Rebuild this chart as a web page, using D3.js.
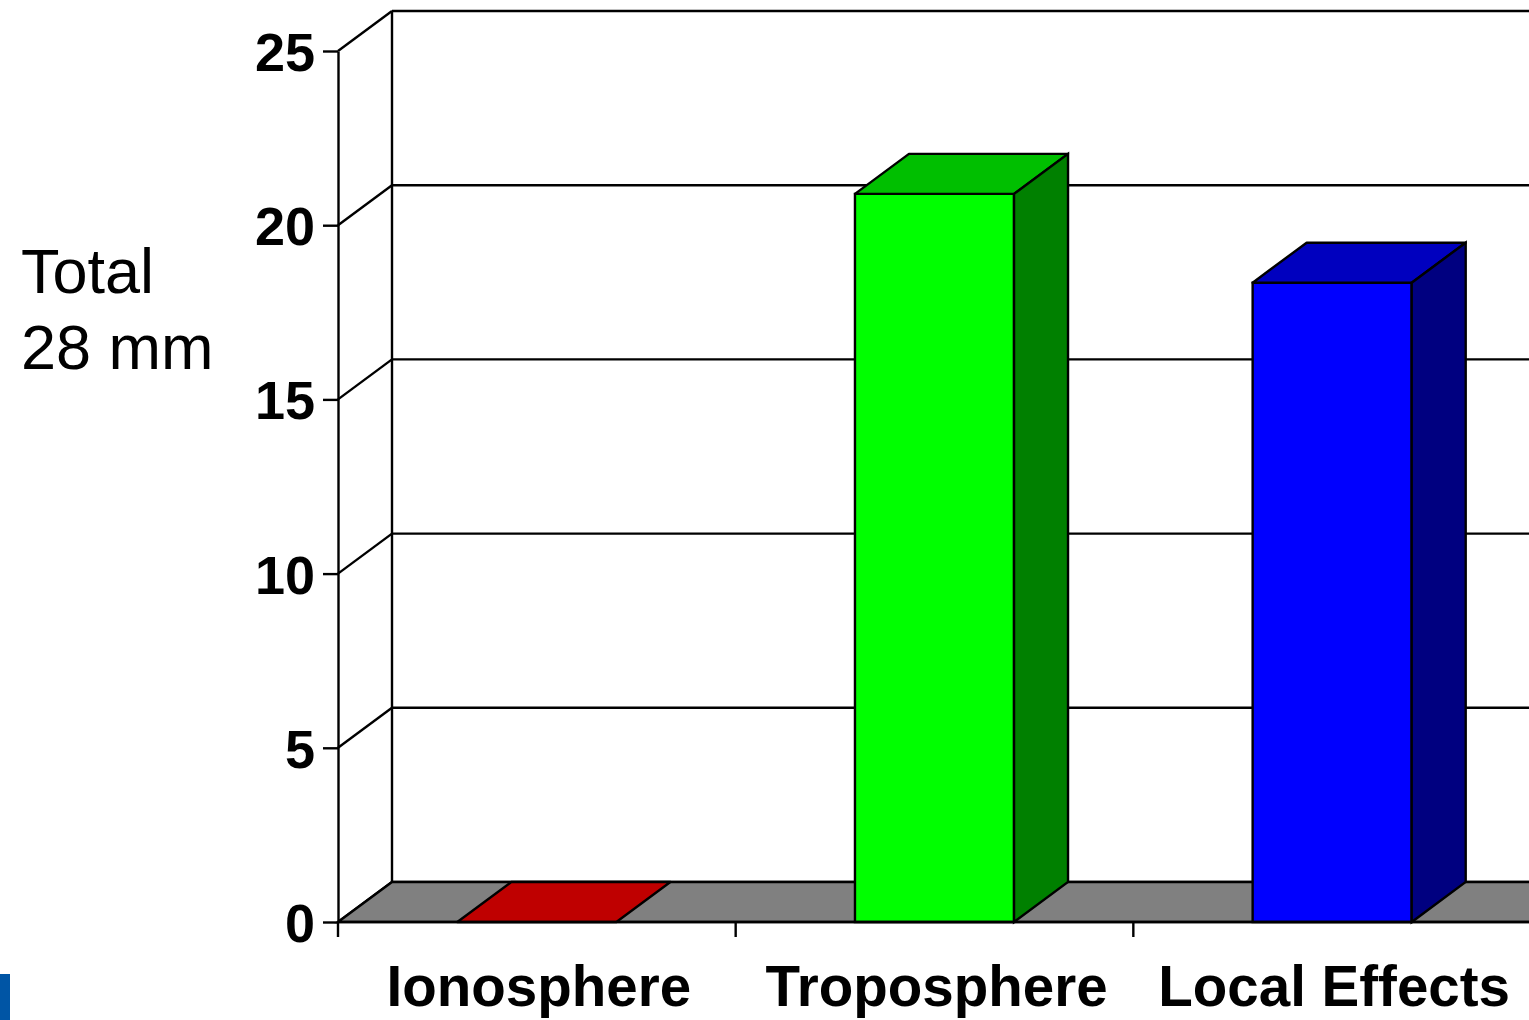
<!DOCTYPE html>
<html>
<head>
<meta charset="utf-8">
<script src="https://cdn.jsdelivr.net/npm/d3@7"></script>
<style>
  html, body { margin: 0; padding: 0; background: #fff; overflow: hidden; }
  svg { display: block; }
</style>
</head>
<body>
<svg width="1529" height="1020"></svg>
<script>
// data
var categories = ['Ionosphere', 'Troposphere', 'Local Effects']
var values = [0, 20.9, 18.35]
var frontColors = ['#ff0000', '#00ff00', '#0000ff']
var yTicks = [0, 5, 10, 15, 20, 25]
var noteLines = ['Total', '28 mm']

var svg = d3.select('svg')
var width = 1529, height = 1020

// depth offset of the 3d box
var dx = 54, dy = -40

var y = d3.scaleLinear().domain([0, 25]).range([922, 51])
var x = d3.scaleBand().domain(categories).range([338, 1531])
    .paddingInner(0.6).paddingOuter(0.3)

var ink = '#000'
var sw = 2.4
var font = '"Liberation Sans", Arial, sans-serif'

// side wall diagonals + back wall grid
var grid = svg.append('g')
grid.selectAll('line.back')
    .data(yTicks)
    .enter().append('line')
    .attr('class', 'back')
    .attr('x1', 338 + dx).attr('x2', width + 10)
    .attr('y1', d => y(d) + dy).attr('y2', d => y(d) + dy)
    .style('stroke', ink).style('stroke-width', sw)

grid.selectAll('line.side')
    .data(yTicks)
    .enter().append('line')
    .attr('class', 'side')
    .attr('x1', 338).attr('x2', 338 + dx)
    .attr('y1', d => y(d)).attr('y2', d => y(d) + dy)
    .style('stroke', ink).style('stroke-width', sw)

grid.append('line')
    .attr('x1', 338 + dx).attr('x2', 338 + dx)
    .attr('y1', y(25) + dy).attr('y2', y(0) + dy)
    .style('stroke', ink).style('stroke-width', sw)

// floor
var floorPts = [[338, y(0)], [338 + dx, y(0) + dy], [width + 10, y(0) + dy], [width + 10, y(0)]]
svg.append('path')
    .attr('d', d3.line()(floorPts) + 'Z')
    .style('fill', '#808080')
    .style('stroke', ink).style('stroke-width', sw)

// bars
function shade(c, k) {
    var col = d3.rgb(c)
    return d3.rgb(col.r * k, col.g * k, col.b * k).formatHex()
}

var bars = svg.selectAll('g.bar')
    .data(categories.map((c, i) => ({ name: c, v: values[i], color: frontColors[i] })))
    .enter().append('g')
    .attr('class', 'bar')

bars.each(function(d) {
    var g = d3.select(this)
    var x0 = x(d.name), x1 = x0 + x.bandwidth()
    var yt = y(d.v), yb = y(0)
    var line = d3.line()
    // front
    if (yb - yt > 0) {
        g.append('path')
            .attr('d', line([[x0, yt], [x1, yt], [x1, yb], [x0, yb]]) + 'Z')
            .style('fill', d.color)
            .style('stroke', ink).style('stroke-width', sw)
    }
    // top
    g.append('path')
        .attr('d', line([[x0, yt], [x0 + dx, yt + dy], [x1 + dx, yt + dy], [x1, yt]]) + 'Z')
        .style('fill', shade(d.color, 0.75))
        .style('stroke', ink).style('stroke-width', sw)
        .style('stroke-linejoin', 'round')
    // side
    if (yb - yt > 0) {
        g.append('path')
            .attr('d', line([[x1, yt], [x1 + dx, yt + dy], [x1 + dx, yb + dy], [x1, yb]]) + 'Z')
            .style('fill', shade(d.color, 0.5))
            .style('stroke', ink).style('stroke-width', sw)
    }
})

// y axis
var yAxis = svg.append('g')
    .attr('transform', 'translate(338,0)')
    .call(d3.axisLeft(y).tickValues(yTicks).tickSize(15).tickSizeOuter(0).tickPadding(8))
yAxis.select('.domain').style('stroke', ink).style('stroke-width', sw)
yAxis.selectAll('.tick line').style('stroke', ink).style('stroke-width', sw)
yAxis.selectAll('.tick text')
    .style('font-family', font).style('font-size', '54px').style('font-weight', 'bold')
    .style('fill', ink).attr('dy', '0.36em')

// category axis: ticks at band boundaries
var bounds = d3.range(categories.length + 1).map(i => x.range()[0] + i * x.step())
svg.append('line')
    .attr('x1', 338).attr('x2', width + 10)
    .attr('y1', y(0)).attr('y2', y(0))
    .style('stroke', ink).style('stroke-width', sw)
svg.selectAll('line.xtick')
    .data(bounds)
    .enter().append('line')
    .attr('class', 'xtick')
    .attr('x1', d => d).attr('x2', d => d)
    .attr('y1', y(0)).attr('y2', y(0) + 15)
    .style('stroke', ink).style('stroke-width', sw)

svg.selectAll('text.cat')
    .data(categories)
    .enter().append('text')
    .attr('class', 'cat')
    .attr('x', d => x(d) + x.bandwidth() / 2 + 2)
    .attr('y', 1006)
    .attr('text-anchor', 'middle')
    .style('font-family', font).style('font-size', '56.5px').style('font-weight', 'bold')
    .style('fill', ink)
    .text(d => d)

// side note
svg.selectAll('text.note')
    .data(noteLines)
    .enter().append('text')
    .attr('class', 'note')
    .attr('x', 21)
    .attr('y', (d, i) => 293 + i * 76)
    .style('font-family', font).style('font-size', '63px')
    .style('fill', ink)
    .text(d => d)

// slide marker bottom-left
svg.append('rect')
    .attr('x', 0).attr('y', 974).attr('width', 10).attr('height', 46)
    .style('fill', '#0055a5')
</script>
</body>
</html>
